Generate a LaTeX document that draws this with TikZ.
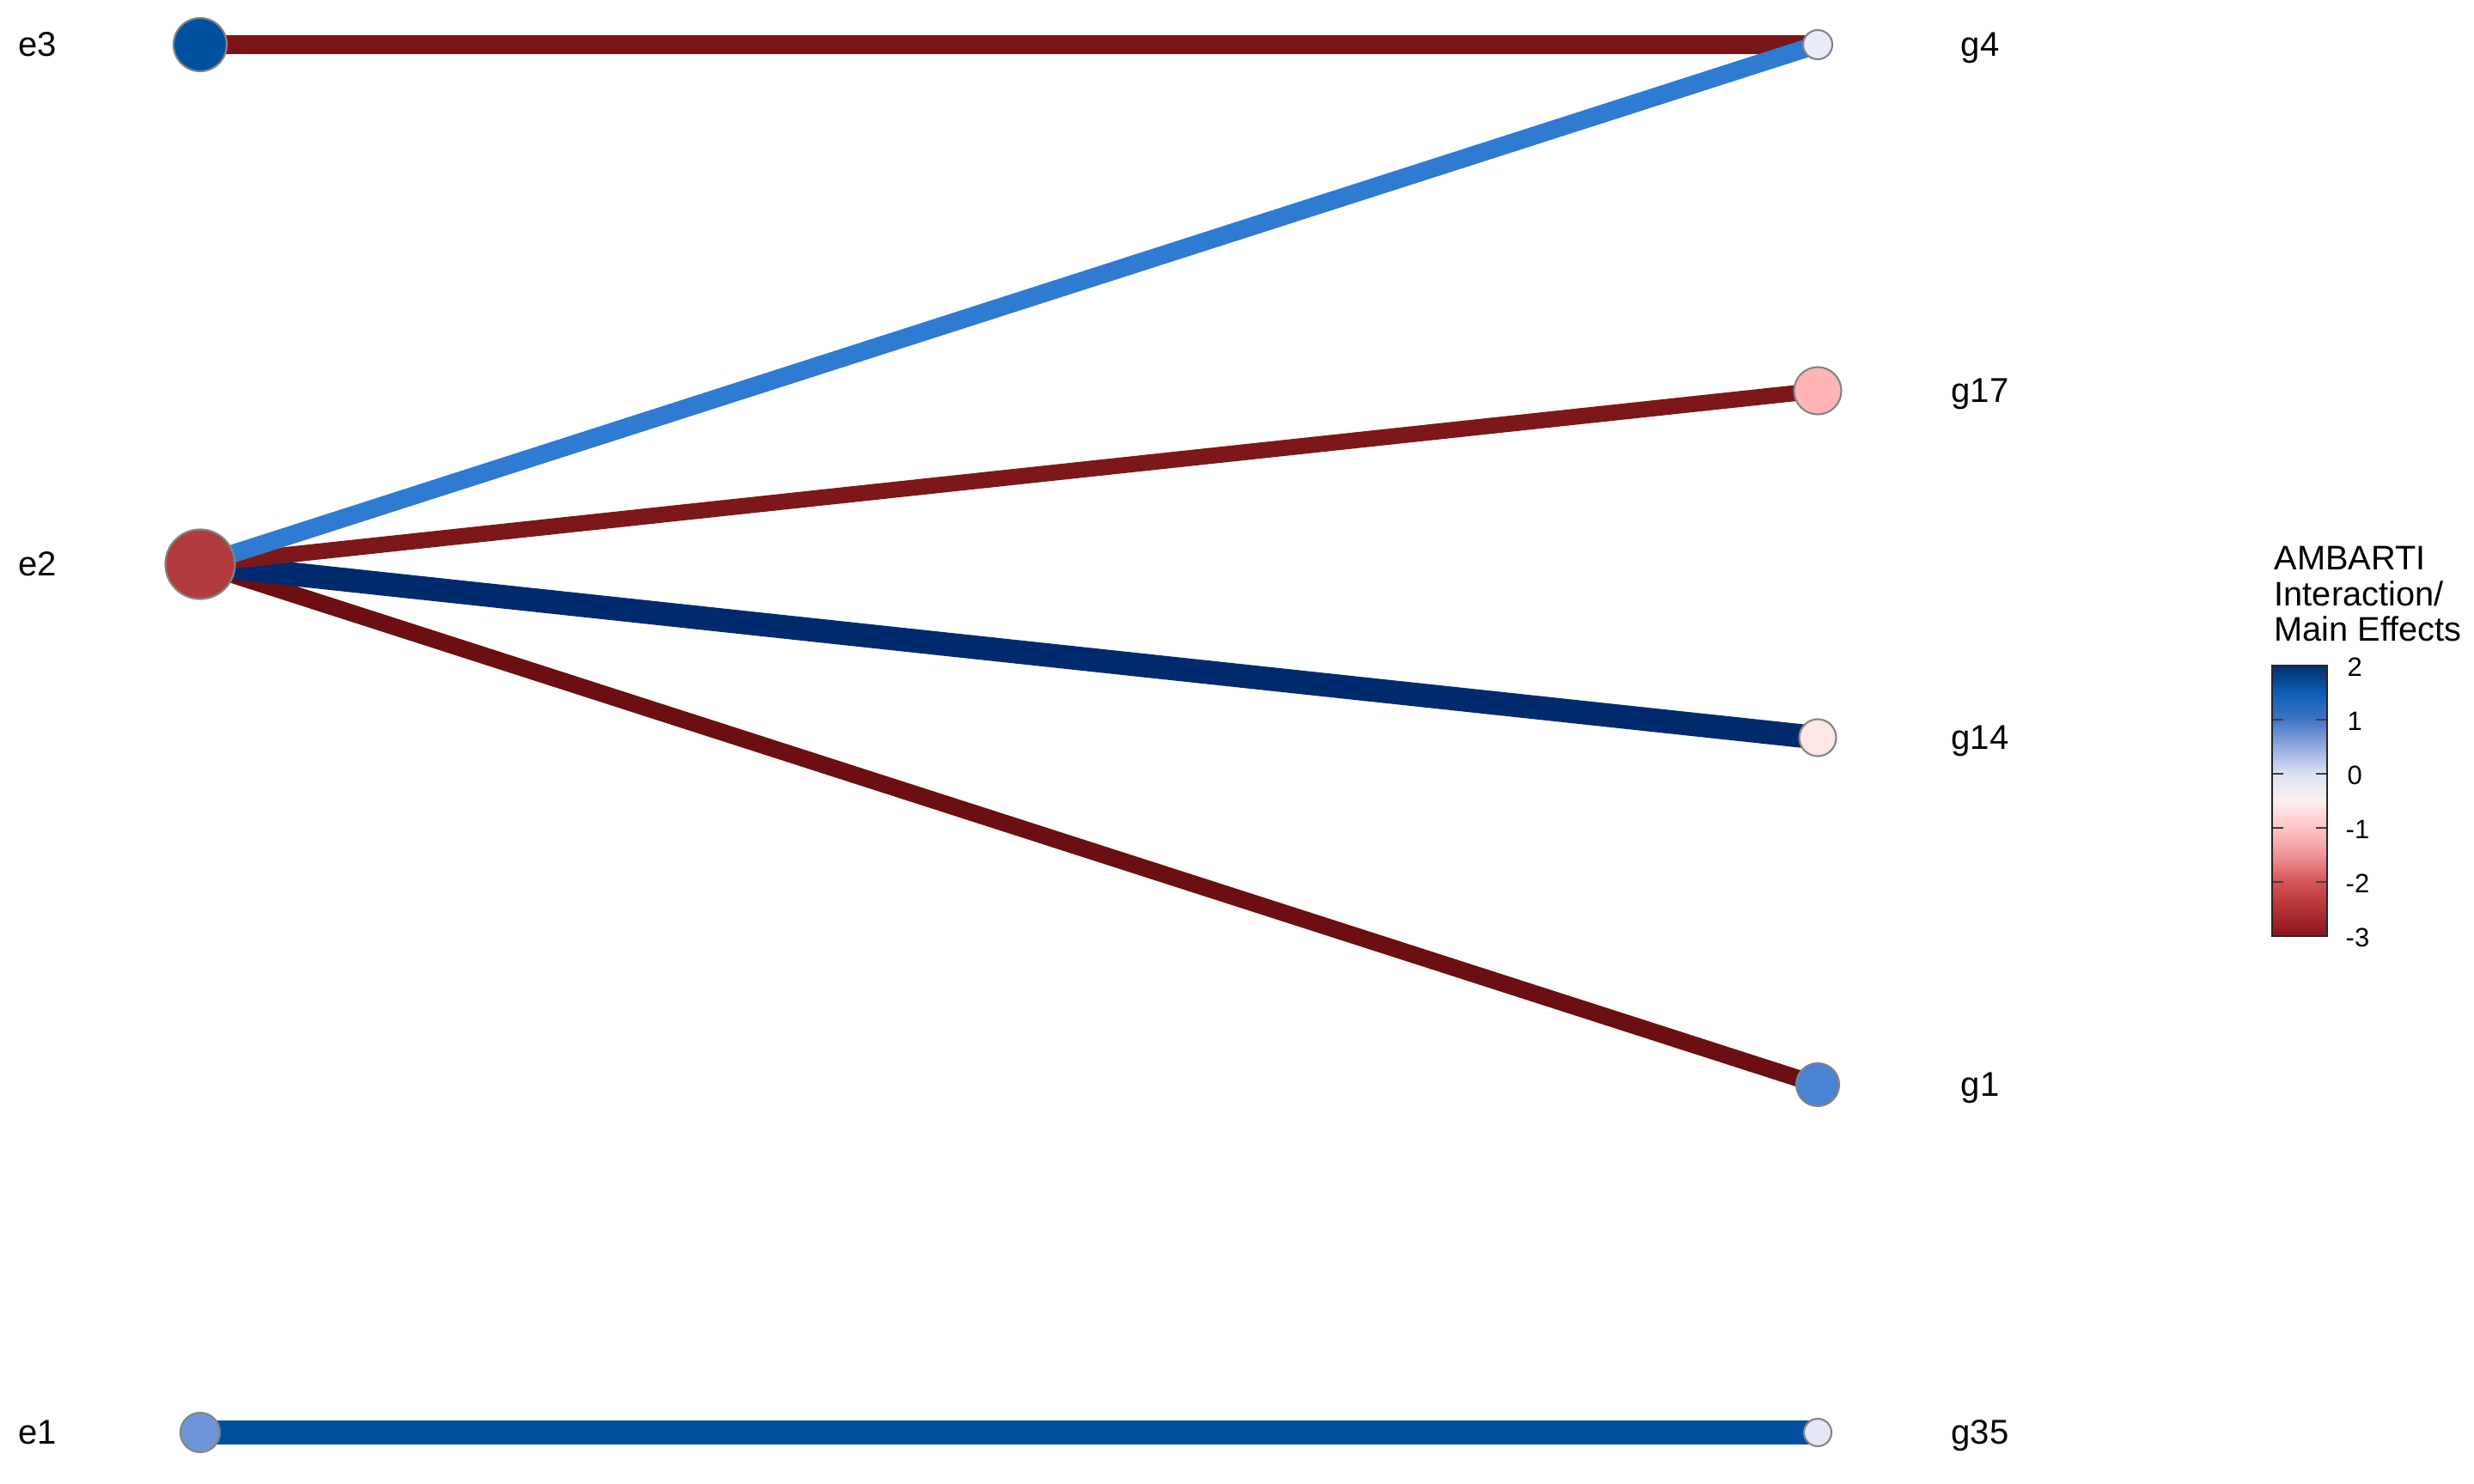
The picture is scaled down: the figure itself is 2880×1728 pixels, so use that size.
\documentclass[tikz,border=0pt]{standalone}
\usepackage{fontspec}
\setmainfont{Liberation Sans}
\usetikzlibrary{backgrounds}
% node fills
\definecolor{ne3}{HTML}{0052A0}
\definecolor{ne2}{HTML}{B33B3E}
\definecolor{ne1}{HTML}{6E96D8}
\definecolor{ng4}{HTML}{E8ECF8}
\definecolor{ng17}{HTML}{FFB4B6}
\definecolor{ng14}{HTML}{FDE6E6}
\definecolor{ng1}{HTML}{4A82D4}
\definecolor{ng35}{HTML}{E2E6F6}
\definecolor{nodegray}{HTML}{848484}
% edge colours
\definecolor{eA}{HTML}{7B1416}
\definecolor{eB}{HTML}{2F7BD2}
\definecolor{eC}{HTML}{7D1719}
\definecolor{eD}{HTML}{002A6E}
\definecolor{eE}{HTML}{6C0F12}
\definecolor{eF}{HTML}{0050A0}
% colour bar stops
\definecolor{cbA}{HTML}{04306E}
\definecolor{cbB}{HTML}{0A5EB6}
\definecolor{cbC}{HTML}{4274C6}
\definecolor{cbD}{HTML}{94AADE}
\definecolor{cbE}{HTML}{DCE2F4}
\definecolor{cbF}{HTML}{FCEFF0}
\definecolor{cbG}{HTML}{FFC4C6}
\definecolor{cbH}{HTML}{EE9496}
\definecolor{cbI}{HTML}{D45456}
\definecolor{cbJ}{HTML}{B23234}
\definecolor{cbK}{HTML}{8A161C}
\pgfdeclareverticalshading{ambarti}{100bp}{color(0bp)=(cbK); color(25bp)=(cbK); color(30bp)=(cbJ); color(35bp)=(cbI); color(40bp)=(cbH); color(45bp)=(cbG); color(50bp)=(cbF); color(55bp)=(cbE); color(60bp)=(cbD); color(65bp)=(cbC); color(70bp)=(cbB); color(75bp)=(cbA); color(100bp)=(cbA)}
\begin{document}
\begin{tikzpicture}[x=0.01cm,y=-0.01cm,
  vnode/.style={circle, draw=nodegray, line width=0.6pt, inner sep=0pt},
  lbl/.style={anchor=base, font=\fontsize{11.4}{13}\selectfont, inner sep=0pt},
  ttl/.style={anchor=base west, font=\fontsize{11.3}{13}\selectfont, inner sep=0pt},
  tick/.style={anchor=west, font=\fontsize{8.8}{10}\selectfont, inner sep=0pt},
  tickmark/.style={line width=0.6pt, draw=black!75}]
\useasboundingbox (0,0) rectangle (2880,1728);

% nodes
\node[vnode, fill=ne3, minimum size=0.62cm] (e3) at (233,52) {};
\node[vnode, fill=ne2, minimum size=0.81cm] (e2) at (233,657) {};
\node[vnode, fill=ne1, minimum size=0.46cm] (e1) at (233,1668) {};
\node[vnode, fill=ng4, minimum size=0.34cm] (g4) at (2116,52) {};
\node[vnode, fill=ng17, minimum size=0.55cm] (g17) at (2116,455) {};
\node[vnode, fill=ng14, minimum size=0.43cm] (g14) at (2116,859) {};
\node[vnode, fill=ng1, minimum size=0.50cm] (g1) at (2116,1263) {};
\node[vnode, fill=ng35, minimum size=0.32cm] (g35) at (2116,1668) {};

% edges
\begin{pgfonlayer}{background}
\draw[line width=6.3pt, eA] (e3.center) -- (g4.center);
\draw[line width=5.6pt, eE] (e2.center) -- (g1.center);
\draw[line width=7.8pt, eD] (e2.center) -- (g14.center);
\draw[line width=5.3pt, eC] (e2.center) -- (g17.center);
\draw[line width=6.0pt, eB] (e2.center) -- (g4.center);
\draw[line width=7.97pt, eF] (e1.center) -- (g35.center);
\end{pgfonlayer}

% labels
\node[lbl] (le3) at (44,66) {e3};
\node[lbl] (le2) at (44,671) {e2};
\node[lbl] (le1) at (44,1682) {e1};
\node[lbl] (lg4) at (2305,66) {g4};
\node[lbl] (lg17) at (2305,469) {g17};
\node[lbl] (lg14) at (2305,873) {g14};
\node[lbl] (lg1) at (2305,1277) {g1};
\node[lbl] (lg35) at (2305,1682) {g35};

% legend
\node[ttl] (t1) at (2647,664) {AMBARTI};
\node[ttl] (t2) at (2647,706) {Interaction/};
\node[ttl] (t3) at (2647,747) {Main Effects};
\shade[shading=ambarti] (2645,775) rectangle (2709,1090);
\foreach \yy in {838,901,964,1027} {
  \draw[tickmark] (2645,\yy) -- (2658,\yy);
  \draw[tickmark] (2696,\yy) -- (2709,\yy);
}
\draw[line width=0.55pt, draw=black!85] (2645,775) rectangle (2709,1090);
\node[tick] (k2) at (2732,777) {2};
\node[tick] (k1) at (2732,840) {1};
\node[tick] (k0) at (2732,903) {0};
\node[tick] (km1) at (2730,966) {-1};
\node[tick] (km2) at (2730,1029) {-2};
\node[tick] (km3) at (2730,1092) {-3};
\end{tikzpicture}
\end{document}
